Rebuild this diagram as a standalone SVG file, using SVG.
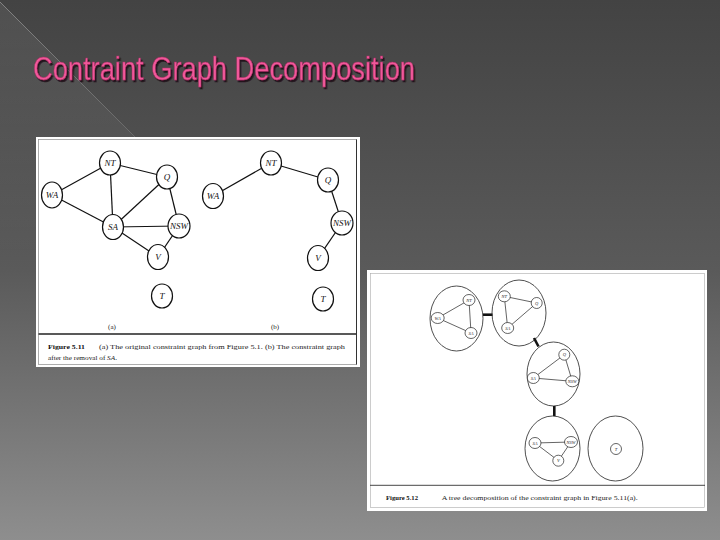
<svg xmlns="http://www.w3.org/2000/svg" width="720" height="540" viewBox="0 0 720 540">
<defs>
<linearGradient id="bg" x1="0" y1="0" x2="0" y2="1">
<stop offset="0" stop-color="#434343"/>
<stop offset="0.5" stop-color="#5a5a5a"/>
<stop offset="1" stop-color="#8e8e8e"/>
</linearGradient>
<linearGradient id="tri" gradientUnits="userSpaceOnUse" x1="0" y1="0" x2="0" y2="260">
<stop offset="0" stop-color="#ffffff" stop-opacity="0.07"/>
<stop offset="1" stop-color="#ffffff" stop-opacity="0"/>
</linearGradient>
<linearGradient id="ln" gradientUnits="userSpaceOnUse" x1="0" y1="0" x2="200" y2="200">
<stop offset="0" stop-color="#9a9a9a" stop-opacity="0.9"/>
<stop offset="1" stop-color="#9a9a9a" stop-opacity="0.2"/>
</linearGradient>
<filter id="sh" x="-5%" y="-20%" width="110%" height="150%">
<feDropShadow dx="1.5" dy="2" stdDeviation="0.6" flood-color="#1a1014" flood-opacity="0.9"/>
</filter>
<style>
.n{fill:#fff;stroke:#111;stroke-width:1.2}
.e{stroke:#111;stroke-width:1.2;fill:none}
.l{font-family:"Liberation Serif",serif;font-style:italic;font-size:9px;fill:#111;text-anchor:middle}
.bn{fill:none;stroke:#222;stroke-width:0.8}
.sn{fill:#fff;stroke:#222;stroke-width:0.7}
.se{stroke:#222;stroke-width:0.7;fill:none}
.sl{font-family:"Liberation Serif",serif;font-style:italic;font-size:4.5px;fill:#222;text-anchor:middle}
.te{stroke:#111;stroke-width:2.6;fill:none}
.cap{font-family:"Liberation Serif",serif;font-size:7px;fill:#222}
.capb{font-family:"Liberation Serif",serif;font-size:7px;font-weight:bold;fill:#111}
.title{font-family:"Liberation Sans",Arial,sans-serif;font-size:34px}
</style>
</defs>
<rect width="720" height="540" fill="url(#bg)"/>
<polygon points="0,2 258,260 0,260" fill="url(#tri)"/>
<line x1="0" y1="2" x2="190" y2="192" stroke="url(#ln)" stroke-width="0.8"/>
<g id="title">
<text class="title" x="33" y="80" fill="#f0589a" stroke="#a82c62" stroke-width="0.5" filter="url(#sh)" textLength="382" lengthAdjust="spacingAndGlyphs">Contraint Graph Decomposition</text>
</g>
<g id="figure-5-11">
<rect x="36" y="137" width="324" height="230" fill="#fff"/>
<rect x="38.5" y="139.5" width="318" height="225" fill="none" stroke="#999" stroke-width="0.8"/>
<line x1="356.5" y1="139.5" x2="356.5" y2="364.5" stroke="#333" stroke-width="1"/>
<line x1="38.5" y1="334" x2="356" y2="334" stroke="#222" stroke-width="1.6"/>
<text class="cap" x="112" y="329" text-anchor="middle">(a)</text>
<text class="cap" x="275" y="329" text-anchor="middle">(b)</text>
<text class="capb" x="48" y="349" textLength="37" lengthAdjust="spacingAndGlyphs">Figure 5.11</text>
<text class="cap" x="99" y="349" textLength="246" lengthAdjust="spacingAndGlyphs">(a) The original constraint graph from Figure 5.1. (b) The constraint graph</text>
<text class="cap" x="48" y="360" textLength="69" lengthAdjust="spacingAndGlyphs">after the removal of <tspan font-style="italic">SA</tspan>.</text>
</g>
<g id="figure-5-12">
<rect x="367" y="270" width="340" height="241" fill="#fff"/>
<rect x="370.5" y="273.5" width="334" height="234" fill="none" stroke="#aaa" stroke-width="0.6"/>
<line x1="370" y1="485.3" x2="705" y2="485.3" stroke="#333" stroke-width="0.9"/>
<text class="capb" x="386" y="500" textLength="32" lengthAdjust="spacingAndGlyphs">Figure 5.12</text>
<text class="cap" x="441.7" y="500" textLength="196" lengthAdjust="spacingAndGlyphs">A tree decomposition of the constraint graph in Figure 5.11(a).</text>
</g>
<g id="connectors">
<line class="e" x1="52" y1="195" x2="110" y2="163"/>
<line class="e" x1="52" y1="195" x2="113" y2="227"/>
<line class="e" x1="110" y1="163" x2="113" y2="227"/>
<line class="e" x1="110" y1="163" x2="167" y2="177"/>
<line class="e" x1="167" y1="177" x2="113" y2="227"/>
<line class="e" x1="167" y1="177" x2="179" y2="226"/>
<line class="e" x1="113" y1="227" x2="179" y2="226"/>
<line class="e" x1="113" y1="227" x2="158" y2="257"/>
<line class="e" x1="179" y1="226" x2="158" y2="257"/>
<line class="e" x1="213" y1="196" x2="271" y2="163"/>
<line class="e" x1="271" y1="163" x2="328" y2="180"/>
<line class="e" x1="328" y1="180" x2="342" y2="223"/>
<line class="e" x1="342" y1="223" x2="318" y2="258"/>
<line class="se" x1="437.7" y1="318" x2="469" y2="300"/>
<line class="se" x1="437.7" y1="318" x2="471" y2="333"/>
<line class="se" x1="469" y1="300" x2="471" y2="333"/>
<line class="se" x1="504.3" y1="296.3" x2="536.7" y2="303"/>
<line class="se" x1="504.3" y1="296.3" x2="507.7" y2="328"/>
<line class="se" x1="536.7" y1="303" x2="507.7" y2="328"/>
<line class="se" x1="564.3" y1="354.7" x2="533.3" y2="378"/>
<line class="se" x1="564.3" y1="354.7" x2="572.3" y2="381.3"/>
<line class="se" x1="533.3" y1="378" x2="572.3" y2="381.3"/>
<line class="se" x1="535" y1="443" x2="571" y2="442" stroke-width="1.1"/>
<line class="se" x1="535" y1="443" x2="558.3" y2="460.7"/>
<line class="se" x1="571" y1="442" x2="558.3" y2="460.7"/>
<line class="te" x1="483" y1="314.7" x2="492.5" y2="314.7"/>
<line class="te" x1="534" y1="338" x2="538.5" y2="346.5"/>
<line class="te" x1="554.3" y1="406" x2="554.3" y2="416"/>
</g>
<g id="a-NT"><ellipse class="n" cx="110" cy="163" rx="10.5" ry="12"/><text class="l" x="110" y="166">NT</text></g>
<g id="a-Q"><ellipse class="n" cx="167" cy="177" rx="10.5" ry="12"/><text class="l" x="167" y="180">Q</text></g>
<g id="a-WA"><ellipse class="n" cx="52" cy="195" rx="10.5" ry="13"/><text class="l" x="52" y="198">WA</text></g>
<g id="a-SA"><ellipse class="n" cx="113" cy="227" rx="10.5" ry="12.5"/><text class="l" x="113" y="230">SA</text></g>
<g id="a-NSW"><ellipse class="n" cx="179" cy="226" rx="11" ry="12"/><text class="l" x="179" y="229" textLength="18" lengthAdjust="spacingAndGlyphs">NSW</text></g>
<g id="a-V"><ellipse class="n" cx="158" cy="257" rx="10.5" ry="12.5"/><text class="l" x="158" y="260">V</text></g>
<g id="a-T"><ellipse class="n" cx="162" cy="296" rx="10.5" ry="12"/><text class="l" x="162" y="299">T</text></g>
<g id="b-NT"><ellipse class="n" cx="271" cy="163" rx="10.5" ry="12"/><text class="l" x="271" y="166">NT</text></g>
<g id="b-Q"><ellipse class="n" cx="328" cy="180" rx="10.5" ry="12"/><text class="l" x="328" y="183">Q</text></g>
<g id="b-WA"><ellipse class="n" cx="213" cy="196" rx="10.5" ry="12.5"/><text class="l" x="213" y="199">WA</text></g>
<g id="b-NSW"><ellipse class="n" cx="342" cy="223" rx="11" ry="12"/><text class="l" x="342" y="226" textLength="18" lengthAdjust="spacingAndGlyphs">NSW</text></g>
<g id="b-V"><ellipse class="n" cx="318" cy="258" rx="10.5" ry="12.5"/><text class="l" x="318" y="261">V</text></g>
<g id="b-T"><ellipse class="n" cx="323" cy="299" rx="10.5" ry="12"/><text class="l" x="323" y="302">T</text></g>
<g id="bag-1"><ellipse class="bn" cx="456.5" cy="318.5" rx="26.5" ry="32.5"/></g>
<g id="bag-2"><ellipse class="bn" cx="519" cy="313" rx="27" ry="33"/></g>
<g id="bag-3"><ellipse class="bn" cx="553.5" cy="374" rx="26.5" ry="32"/></g>
<g id="bag-4"><ellipse class="bn" cx="552.5" cy="448.5" rx="27.5" ry="32.5"/></g>
<g id="bag-5"><ellipse class="bn" cx="615.5" cy="448.5" rx="27.5" ry="32.5"/></g>
<g id="t1-WA"><ellipse class="sn" cx="437.7" cy="318" rx="6.5" ry="5.5"/><text class="sl" x="437.7" y="319.6">WA</text></g>
<g id="t1-NT"><ellipse class="sn" cx="469" cy="300" rx="6" ry="5.5"/><text class="sl" x="469" y="301.6">NT</text></g>
<g id="t1-SA"><ellipse class="sn" cx="471" cy="333" rx="6" ry="5.5"/><text class="sl" x="471" y="334.6">SA</text></g>
<g id="t2-NT"><ellipse class="sn" cx="504.3" cy="296.3" rx="6" ry="5.5"/><text class="sl" x="504.3" y="297.9">NT</text></g>
<g id="t2-Q"><ellipse class="sn" cx="536.7" cy="303" rx="5.5" ry="5.5"/><text class="sl" x="536.7" y="304.6">Q</text></g>
<g id="t2-SA"><ellipse class="sn" cx="507.7" cy="328" rx="6" ry="5.5"/><text class="sl" x="507.7" y="329.6">SA</text></g>
<g id="t3-Q"><ellipse class="sn" cx="564.3" cy="354.7" rx="5.5" ry="5.5"/><text class="sl" x="564.3" y="356.3">Q</text></g>
<g id="t3-SA"><ellipse class="sn" cx="533.3" cy="378" rx="6" ry="5.5"/><text class="sl" x="533.3" y="379.6">SA</text></g>
<g id="t3-NSW"><ellipse class="sn" cx="572.3" cy="381.3" rx="6.5" ry="5.5"/><text class="sl" x="572.3" y="382.9">NSW</text></g>
<g id="t4-SA"><ellipse class="sn" cx="535" cy="443" rx="6" ry="5.5"/><text class="sl" x="535" y="444.6">SA</text></g>
<g id="t4-NSW"><ellipse class="sn" cx="571" cy="442" rx="6.5" ry="5.5"/><text class="sl" x="571" y="443.6">NSW</text></g>
<g id="t4-V"><ellipse class="sn" cx="558.3" cy="460.7" rx="5.5" ry="5.5"/><text class="sl" x="558.3" y="462.3">V</text></g>
<g id="t5-T"><ellipse class="sn" cx="616" cy="449" rx="5.5" ry="5.5"/><text class="sl" x="616" y="450.6">T</text></g>
</svg>
